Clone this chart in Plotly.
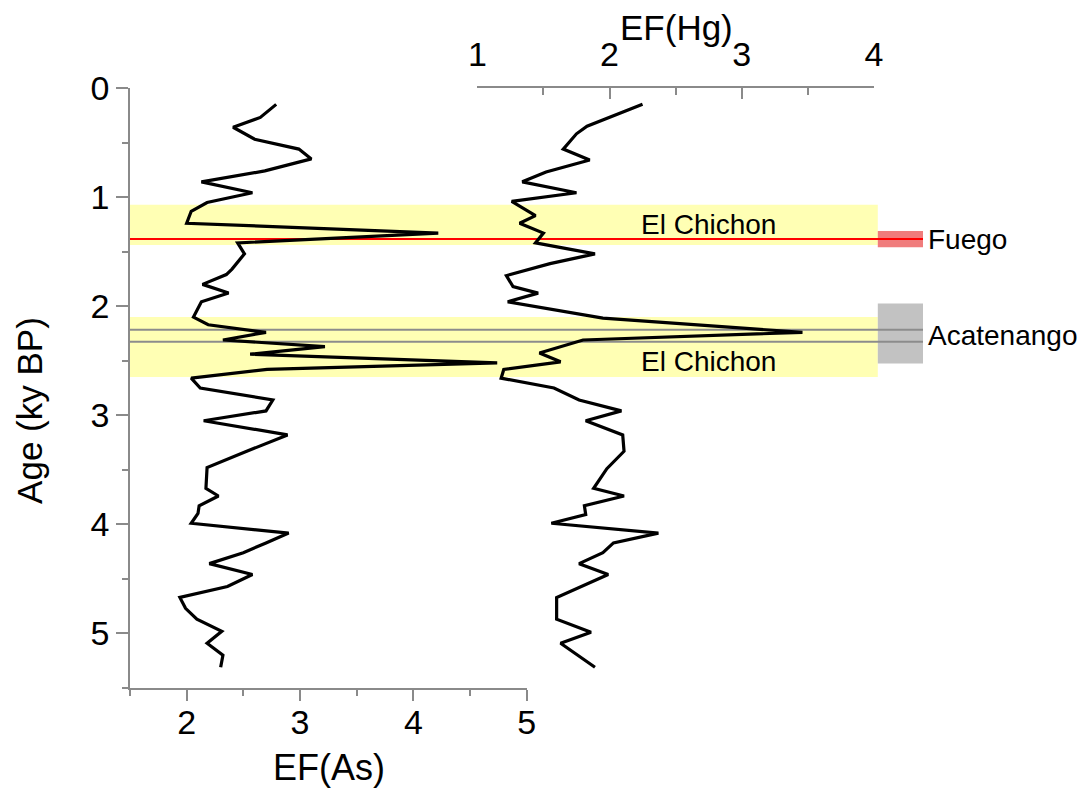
import plotly.graph_objects as go

# ---- data ----
as_age = [0.15, 0.27, 0.36, 0.47, 0.56, 0.65, 0.76, 0.86, 0.96, 1.05, 1.13, 1.24, 1.33, 1.42,
          1.52, 1.66, 1.71, 1.80, 1.88, 1.96, 2.10, 2.17, 2.24, 2.31, 2.37, 2.44, 2.52, 2.58,
          2.66, 2.75, 2.86, 2.96, 3.05, 3.18, 3.33, 3.48, 3.67, 3.74, 3.83, 3.90, 3.99, 4.08,
          4.17, 4.26, 4.36, 4.46, 4.57, 4.67, 4.77, 4.87, 4.98, 5.09, 5.20, 5.31]
as_val = [2.79, 2.65, 2.41, 2.60, 2.99, 3.10, 2.69, 2.13, 2.58, 2.18, 2.04, 2.00, 4.22, 2.45,
          2.51, 2.40, 2.35, 2.14, 2.37, 2.13, 2.06, 2.19, 2.70, 2.32, 3.22, 2.56, 4.74, 2.71,
          2.04, 2.12, 2.76, 2.70, 2.15, 2.89, 2.53, 2.18, 2.17, 2.28, 2.11, 2.10, 2.04, 2.90,
          2.70, 2.50, 2.20, 2.58, 2.36, 1.94, 1.99, 2.09, 2.31, 2.18, 2.32, 2.30]

hg_age = [0.15, 0.35, 0.42, 0.56, 0.66, 0.77, 0.86, 0.96, 1.04, 1.17, 1.24, 1.33, 1.42, 1.52,
          1.61, 1.72, 1.82, 1.88, 1.96, 2.05, 2.11, 2.24, 2.31, 2.43, 2.51, 2.58, 2.66, 2.75,
          2.86, 2.96, 3.05, 3.18, 3.33, 3.49, 3.67, 3.74, 3.83, 3.91, 3.99, 4.08, 4.17, 4.26,
          4.36, 4.46, 4.67, 4.87, 4.99, 5.09, 5.31]
hg_val = [2.25, 1.83, 1.75, 1.65, 1.85, 1.52, 1.34, 1.75, 1.26, 1.44, 1.32, 1.50, 1.44, 1.89,
          1.55, 1.22, 1.27, 1.46, 1.23, 1.65, 1.95, 3.46, 1.80, 1.47, 1.63, 1.20, 1.18, 1.58,
          1.77, 2.09, 1.82, 2.10, 2.11, 1.98, 1.88, 2.11, 1.81, 1.82, 1.56, 2.37, 2.03, 1.95,
          1.77, 1.99, 1.60, 1.60, 1.86, 1.63, 1.89]

chichon_bands = [(1.07, 1.44), (2.10, 2.65)]
chichon_labels = ["El Chichon", "El Chichon"]
chichon_label_age = [1.25, 2.51]
fuego_line = 1.385
fuego_band = (1.31, 1.46)
acat_lines = [2.215, 2.325]
acat_band = (1.975, 2.525)

FONT = "Liberation Sans, Arial, sans-serif"
AXC = "#8a8a8a"

fig = go.Figure()
fig.add_trace(go.Scatter(x=as_val, y=as_age, mode="lines", xaxis="x", yaxis="y",
                         line=dict(color="black", width=3.2), showlegend=False))
fig.add_trace(go.Scatter(x=hg_val, y=hg_age, mode="lines", xaxis="x2", yaxis="y",
                         line=dict(color="black", width=3.2), showlegend=False))

YB_END = 0.943
shapes = []
for a0, a1 in chichon_bands:
    shapes.append(dict(type="rect", xref="paper", yref="y", x0=0, x1=YB_END, y0=a0, y1=a1,
                       fillcolor="#FFFFB4", line=dict(width=0), layer="below"))
shapes.append(dict(type="rect", xref="paper", yref="y", x0=YB_END, x1=1.0,
                   y0=fuego_band[0], y1=fuego_band[1], fillcolor="#F07C7C",
                   line=dict(width=0), layer="below"))
shapes.append(dict(type="rect", xref="paper", yref="y", x0=YB_END, x1=1.0,
                   y0=acat_band[0], y1=acat_band[1], fillcolor="#C2C2C2",
                   line=dict(width=0), layer="below"))
shapes.append(dict(type="line", xref="paper", yref="y", x0=0, x1=1.0, y0=fuego_line,
                   y1=fuego_line, line=dict(color="#FF0000", width=2), layer="below"))
for g in acat_lines:
    shapes.append(dict(type="line", xref="paper", yref="y", x0=0, x1=1.0, y0=g, y1=g,
                       line=dict(color="#8c8c8c", width=2), layer="below"))

annotations = []
for lab, ag in zip(chichon_labels, chichon_label_age):
    annotations.append(dict(text=lab, xref="paper", yref="y", x=0.729, y=ag, showarrow=False,
                            font=dict(family=FONT, size=28, color="black"),
                            xanchor="center", yanchor="middle"))
annotations.append(dict(text="Fuego", xref="paper", yref="y", x=1.0, xshift=3, y=fuego_line,
                        showarrow=False, xanchor="left", yanchor="middle",
                        font=dict(family=FONT, size=28, color="black")))
annotations.append(dict(text="Acatenango", xref="paper", yref="y", x=1.0, xshift=3, y=2.27,
                        showarrow=False, xanchor="left", yanchor="middle",
                        font=dict(family=FONT, size=28, color="black")))
annotations.append(dict(text="Age (ky BP)", xref="paper", yref="paper", x=-0.126, y=0.462,
                        textangle=-90, showarrow=False, xanchor="center", yanchor="middle",
                        font=dict(family=FONT, size=35, color="black")))
annotations.append(dict(text="EF(As)", xref="paper", yref="paper", x=0.251, y=-0.133,
                        showarrow=False, xanchor="center", yanchor="middle",
                        font=dict(family=FONT, size=36, color="black")))
annotations.append(dict(text="EF(Hg)", xref="paper", yref="paper", x=0.689, y=1.101,
                        showarrow=False, xanchor="center", yanchor="middle",
                        font=dict(family=FONT, size=35, color="black")))

tickfont = dict(family=FONT, size=34, color="black")

fig.update_layout(
    width=1081, height=788, autosize=False,
    margin=dict(l=122, r=166, t=80, b=108),
    plot_bgcolor="rgba(0,0,0,0)", paper_bgcolor="white",
    shapes=shapes, annotations=annotations,
    xaxis=dict(domain=[0, 0.5002], range=[1.5, 5], anchor="y", side="bottom",
               tick0=0, dtick=1, ticks="outside", ticklen=11, tickwidth=1.5, tickcolor=AXC,
               minor=dict(dtick=0.5, ticks="outside", ticklen=6, tickwidth=1.5, tickcolor=AXC),
               showline=True, linecolor=AXC, linewidth=1.5, showgrid=False, zeroline=False,
               tickfont=tickfont, automargin=False, ticklabelstandoff=-8),
    xaxis2=dict(domain=[0.438, 0.938], range=[1, 4], anchor="y", side="top",
                tick0=0, dtick=1, ticks="inside", ticklen=11, tickwidth=1.5, tickcolor=AXC,
                minor=dict(dtick=0.5, ticks="inside", ticklen=7, tickwidth=1.5, tickcolor=AXC),
                showline=True, linecolor=AXC, linewidth=1.5, showgrid=False, zeroline=False,
                tickfont=tickfont, ticklabelstandoff=7, automargin=False),
    yaxis=dict(domain=[0, 1], range=[5.5, 0], anchor="x", tick0=0, dtick=1,
               ticks="outside", ticklen=12, tickwidth=1.5, tickcolor=AXC,
               minor=dict(dtick=0.5, ticks="outside", ticklen=6, tickwidth=1.5, tickcolor=AXC),
               showline=True, linecolor=AXC, linewidth=1.5, showgrid=False, zeroline=False,
               tickfont=tickfont, automargin=False),
)

fig.write_html("out.html")
